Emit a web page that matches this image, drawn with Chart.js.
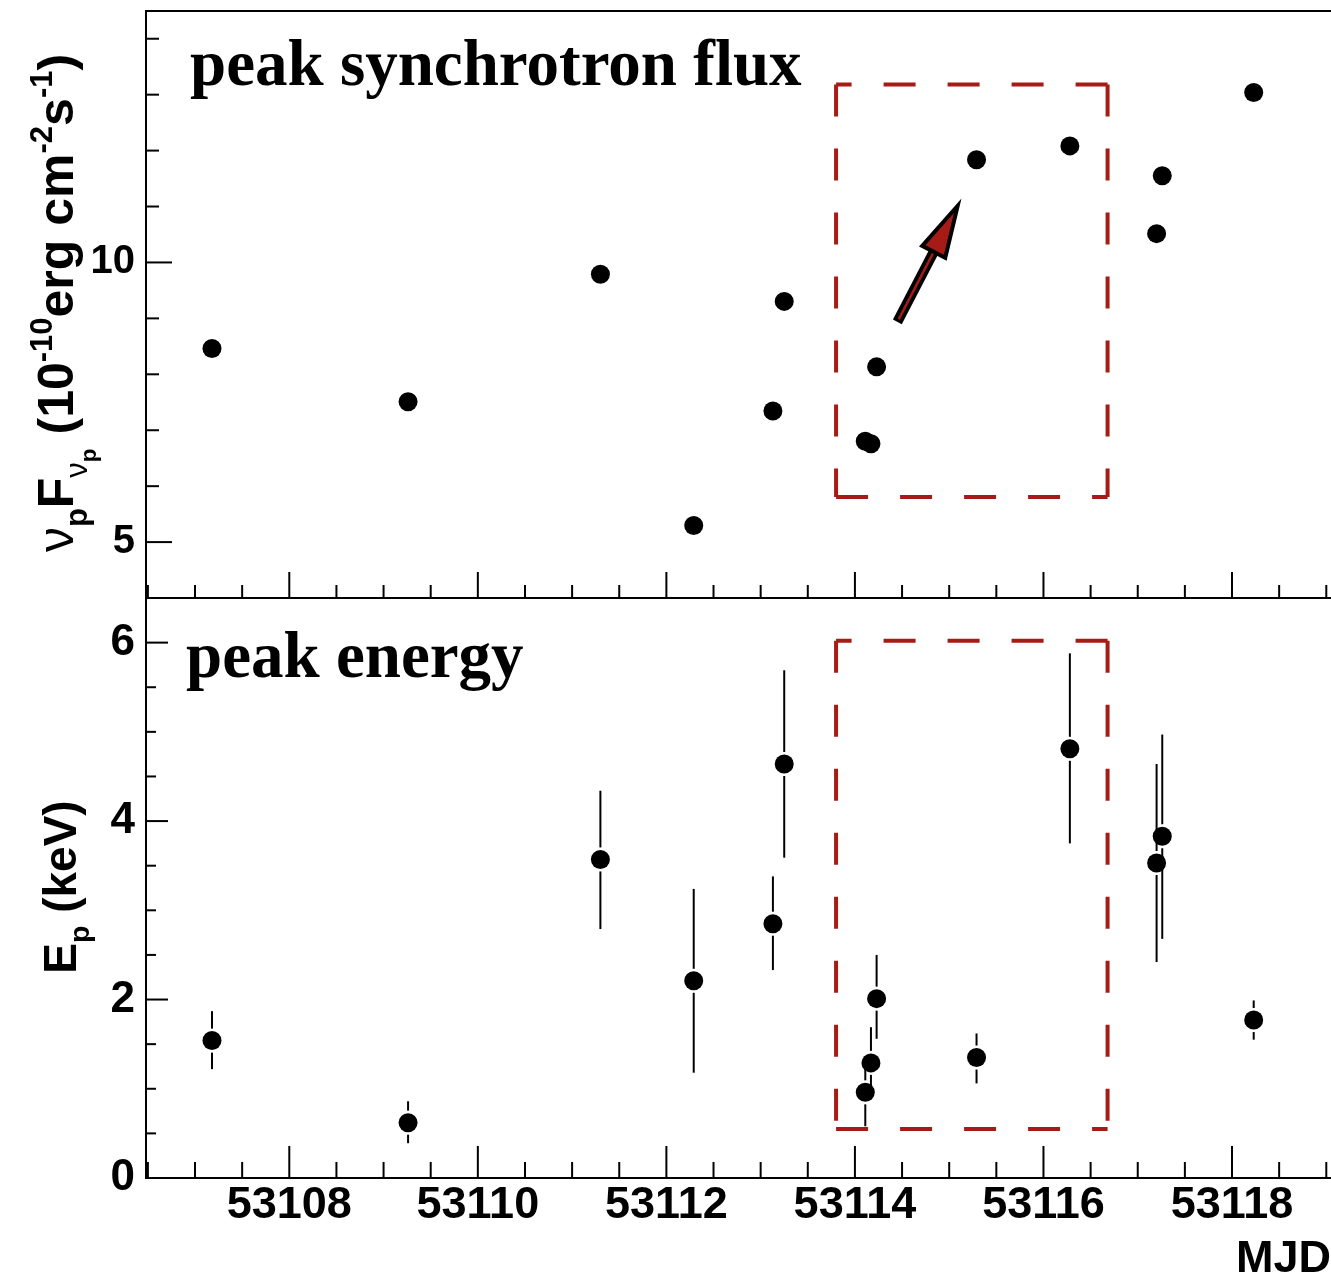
<!DOCTYPE html>
<html>
<head>
<meta charset="utf-8">
<script src="https://cdn.jsdelivr.net/npm/chart.js@4.4.1/dist/chart.umd.min.js"></script>
<style>
  html, body { margin: 0; padding: 0; background: #fff; }
  #wrap { position: relative; width: 1331px; height: 1280px; }
  #wrap canvas { position: absolute; left: 0; top: 0; }
</style>
</head>
<body>
<div id="wrap">
  <canvas id="fluxChart" width="1331" height="1280"></canvas>
  <canvas id="epChart" width="1331" height="1280"></canvas>
</div>
<script>
const mjd = [53107.18, 53109.26, 53111.30, 53112.29, 53113.13, 53113.25, 53114.11,
             53114.17, 53114.23, 53115.29, 53116.28, 53117.20, 53117.26, 53118.23];
// peak synchrotron flux, 1e-10 erg cm^-2 s^-1
const flux = [8.08, 7.08, 9.71, 5.21, 6.92, 9.08, 6.42, 6.38, 7.72, 12.90, 13.35, 10.74, 12.40, 15.24];
// peak energy, keV, with error bar ends
const ep     = [1.54, 0.62, 3.57, 2.21, 2.85, 4.64, 0.96, 1.29, 2.01, 1.35, 4.81, 3.53, 3.83, 1.77];
const epLow  = [1.22, 0.39, 2.79, 1.18, 2.33, 3.59, 0.58, 0.88, 1.56, 1.06, 3.75, 2.42, 2.68, 1.55];
const epHigh = [1.87, 0.86, 4.34, 3.24, 3.38, 5.69, 1.34, 1.69, 2.50, 1.62, 5.88, 4.64, 4.97, 1.99];

// tick labels
const xTicks = [53108, 53110, 53112, 53114, 53116, 53118];
const fluxTicks = [5, 10];
const epTicks = [0, 2, 4, 6];

// highlighted interval and arrow (data coordinates)
const boxX = [53113.80, 53116.68];
const boxFlux = [5.59, 15.54];
const boxEp = [0.55, 6.02];
const arrowFrom = [53114.45, 8.63];
const arrowTo = [53115.09, 11.51];

const X_MIN = 53106.48, X_MAX = 53119.05;
const SANS = '"Liberation Sans", Arial, sans-serif';
const SERIF = '"Liberation Serif", "Times New Roman", serif';
const RED = '#a61b16';

// minor tick positions
const xMinor = [];
for (let v = 53106.5; v <= 53119.5; v += 0.5) xMinor.push(v);
const fluxMinor = [];
for (let k = -6; k <= 6; k++) fluxMinor.push(10 * Math.pow(2, k / 5));
const epMinor = [];
for (let v = 0; v <= 6.5; v += 0.5) epMinor.push(v);

function line(ctx, x0, y0, x1, y1) {
  ctx.beginPath(); ctx.moveTo(x0, y0); ctx.lineTo(x1, y1); ctx.stroke();
}

// draws text made of pieces (sub/superscripts), rotated, centred on cy
function richVertical(ctx, parts, bx, cy) {
  ctx.save();
  ctx.translate(bx, cy);
  ctx.rotate(-Math.PI / 2);
  ctx.textBaseline = 'alphabetic';
  ctx.textAlign = 'left';
  let total = 0;
  parts.forEach(p => {
    ctx.font = (p.w || 'bold') + ' ' + p.s + 'px ' + SANS;
    p.width = ctx.measureText(p.t).width;
    total += p.width;
  });
  let x = -total / 2;
  parts.forEach(p => {
    ctx.font = (p.w || 'bold') + ' ' + p.s + 'px ' + SANS;
    ctx.fillText(p.t, x, p.dy || 0);
    x += p.width;
  });
  ctx.restore();
}

function panelPlugin(cfg) {
  return {
    id: 'panel_' + cfg.name,
    beforeDatasetsDraw(chart) {
      if (!cfg.errLow) return;
      const { ctx, scales: { x, y } } = chart;
      ctx.save();
      ctx.strokeStyle = '#000';
      ctx.lineWidth = 2;
      mjd.forEach((m, i) => {
        const px = x.getPixelForValue(m);
        const py = y.getPixelForValue(cfg.values[i]);
        const hi = y.getPixelForValue(cfg.errHigh[i]);
        const lo = y.getPixelForValue(cfg.errLow[i]);
        const gap = 12;
        if (py - hi > gap) line(ctx, px, hi, px, py - gap);
        if (lo - py > gap) line(ctx, px, py + gap, px, lo);
      });
      ctx.restore();
    },
    afterDatasetsDraw(chart) {
      const { ctx, chartArea: a, scales: { x, y } } = chart;
      ctx.save();

      // dashed box
      ctx.strokeStyle = RED;
      ctx.lineWidth = 4;
      ctx.setLineDash([32, 32]);
      const bx0 = x.getPixelForValue(boxX[0]), bx1 = x.getPixelForValue(boxX[1]);
      const byTop = y.getPixelForValue(cfg.box[1]), byBot = y.getPixelForValue(cfg.box[0]);
      ctx.beginPath();
      ctx.moveTo(bx1, byTop); ctx.lineTo(bx0, byTop);
      ctx.moveTo(bx0, byTop); ctx.lineTo(bx0, byBot);
      ctx.moveTo(bx0, byBot); ctx.lineTo(bx1, byBot);
      ctx.moveTo(bx1, byTop); ctx.lineTo(bx1, byBot);
      ctx.stroke();
      ctx.setLineDash([]);

      // arrow
      if (cfg.arrow) {
        const x0 = x.getPixelForValue(arrowFrom[0]), y0 = y.getPixelForValue(arrowFrom[1]);
        const x1 = x.getPixelForValue(arrowTo[0]), y1 = y.getPixelForValue(arrowTo[1]);
        const ang = Math.atan2(y1 - y0, x1 - x0);
        const headLen = 52, headHalf = 13;
        const bxm = x1 - headLen * Math.cos(ang), bym = y1 - headLen * Math.sin(ang);
        ctx.lineCap = 'butt';
        ctx.strokeStyle = '#000'; ctx.lineWidth = 10;
        line(ctx, x0, y0, bxm, bym);
        ctx.strokeStyle = RED; ctx.lineWidth = 2.5;
        line(ctx, x0 + 3 * Math.cos(ang), y0 + 3 * Math.sin(ang), bxm, bym);
        const nx = -Math.sin(ang), ny = Math.cos(ang);
        ctx.beginPath();
        ctx.moveTo(x1, y1);
        ctx.lineTo(bxm + headHalf * nx, bym + headHalf * ny);
        ctx.lineTo(bxm - headHalf * nx, bym - headHalf * ny);
        ctx.closePath();
        ctx.fillStyle = RED;
        ctx.strokeStyle = '#000';
        ctx.lineWidth = 4;
        ctx.lineJoin = 'miter';
        ctx.fill();
        ctx.stroke();
      }

      // frame
      ctx.strokeStyle = '#000';
      ctx.lineWidth = 2;
      ctx.beginPath();
      ctx.moveTo(a.right + 2, a.top); ctx.lineTo(a.left, a.top);
      ctx.lineTo(a.left, a.bottom); ctx.lineTo(a.right + 2, a.bottom);
      ctx.stroke();

      // ticks, drawn inside the frame
      xMinor.forEach(v => {
        const px = x.getPixelForValue(v);
        if (px <= a.left + 1 || px > a.right) return;
        const len = xTicks.includes(v) ? cfg.xMajorLen : cfg.xMinorLen;
        line(ctx, px, a.bottom, px, a.bottom - len);
      });
      cfg.yMinor.forEach(v => {
        const py = y.getPixelForValue(v);
        if (py < a.top + 1 || py > a.bottom - 1) return;
        const len = cfg.yMajor.includes(v) ? cfg.yMajorLen : cfg.yMinorLen;
        line(ctx, a.left, py, a.left + len, py);
      });

      // panel title
      ctx.fillStyle = '#000';
      ctx.font = 'bold 65px ' + SERIF;
      ctx.textAlign = 'left';
      ctx.textBaseline = 'alphabetic';
      ctx.fillText(cfg.title, cfg.titlePos[0], cfg.titlePos[1]);

      // axis title
      richVertical(ctx, cfg.yTitle, cfg.yTitleBase, cfg.yTitleCenter);

      if (cfg.xTitle) {
        ctx.font = 'bold 45px ' + SANS;
        ctx.textAlign = 'right';
        ctx.fillText(cfg.xTitle, 1331, 1272);
      }
      ctx.restore();
    }
  };
}

function makeChart(id, cfg) {
  return new Chart(document.getElementById(id), {
    type: 'scatter',
    data: {
      datasets: [{
        data: mjd.map((m, i) => ({ x: m, y: cfg.values[i] })),
        backgroundColor: '#000',
        borderWidth: 0,
        pointRadius: 9.5,
        pointHoverRadius: 9.5
      }]
    },
    options: {
      responsive: false,
      animation: false,
      events: [],
      layout: { padding: cfg.padding, autoPadding: false },
      plugins: { legend: { display: false }, tooltip: { enabled: false } },
      scales: {
        x: {
          type: 'linear',
          min: X_MIN,
          max: X_MAX,
          bounds: 'data',
          grid: { display: false, drawTicks: false },
          border: { display: false },
          afterBuildTicks: s => { s.ticks = xTicks.map(v => ({ value: v })); },
          afterFit: s => { s.height = cfg.xHeight; s.paddingLeft = 0; s.paddingRight = 0; },
          ticks: {
            display: cfg.xLabels,
            autoSkip: false,
            maxRotation: 0,
            padding: 1,
            color: '#000',
            font: { family: SANS, size: 45, weight: 'bold' },
            callback: v => String(v)
          }
        },
        y: {
          type: cfg.yType,
          min: cfg.yMin,
          max: cfg.yMax,
          bounds: 'data',
          grid: { display: false, drawTicks: false },
          border: { display: false },
          afterBuildTicks: s => { s.ticks = cfg.yMajor.map(v => ({ value: v })); },
          afterFit: s => { s.width = 146; s.paddingTop = 0; s.paddingBottom = 0; },
          ticks: {
            autoSkip: false,
            padding: 11,
            color: '#000',
            font: { family: SANS, size: cfg.yFont, weight: 'bold' },
            callback: v => String(v)
          }
        }
      }
    },
    plugins: [panelPlugin(cfg)]
  });
}

const S1 = 50, S2 = 46;
makeChart('fluxChart', {
  name: 'flux',
  values: flux,
  padding: { top: 11, bottom: 682, left: 0, right: 0 },
  xHeight: 0,
  xLabels: false,
  yType: 'logarithmic',
  yMin: 4.353,
  yMax: 18.65,
  yMajor: fluxTicks,
  yMinor: fluxMinor,
  yFont: 40,
  xMajorLen: 26, xMinorLen: 13,
  yMajorLen: 26, yMinorLen: 13,
  box: boxFlux,
  arrow: true,
  title: 'peak synchrotron flux',
  titlePos: [190, 85],
  yTitle: [
    { t: 'ν', s: S1, w: 'normal' },
    { t: 'p', s: 0.62 * S1, dy: 0.28 * S1 },
    { t: 'F', s: S1 },
    { t: 'ν', s: 0.62 * S1, dy: 0.28 * S1, w: 'normal' },
    { t: 'p', s: 0.45 * S1, dy: 0.45 * S1 },
    { t: ' (10', s: S1 },
    { t: '-10', s: 0.62 * S1, dy: -0.42 * S1 },
    { t: 'erg cm', s: S1 },
    { t: '-2', s: 0.62 * S1, dy: -0.42 * S1 },
    { t: 's', s: S1 },
    { t: '-1', s: 0.62 * S1, dy: -0.42 * S1 },
    { t: ')', s: S1 }
  ],
  yTitleBase: 73,
  yTitleCenter: 303
});

makeChart('epChart', {
  name: 'ep',
  values: ep,
  errLow: epLow,
  errHigh: epHigh,
  padding: { top: 598, bottom: 0, left: 0, right: 0 },
  xHeight: 102,
  xLabels: true,
  yType: 'linear',
  yMin: 0,
  yMax: 6.5,
  yMajor: epTicks,
  yMinor: epMinor,
  yFont: 44,
  xMajorLen: 32, xMinorLen: 16,
  yMajorLen: 22, yMinorLen: 10,
  box: boxEp,
  arrow: false,
  title: 'peak energy',
  titlePos: [186, 677],
  yTitle: [
    { t: 'E', s: S2 },
    { t: 'p', s: 0.62 * S2, dy: 0.28 * S2 },
    { t: ' (keV)', s: S2 }
  ],
  yTitleBase: 76,
  yTitleCenter: 887,
  xTitle: 'MJD'
});
</script>
</body>
</html>
